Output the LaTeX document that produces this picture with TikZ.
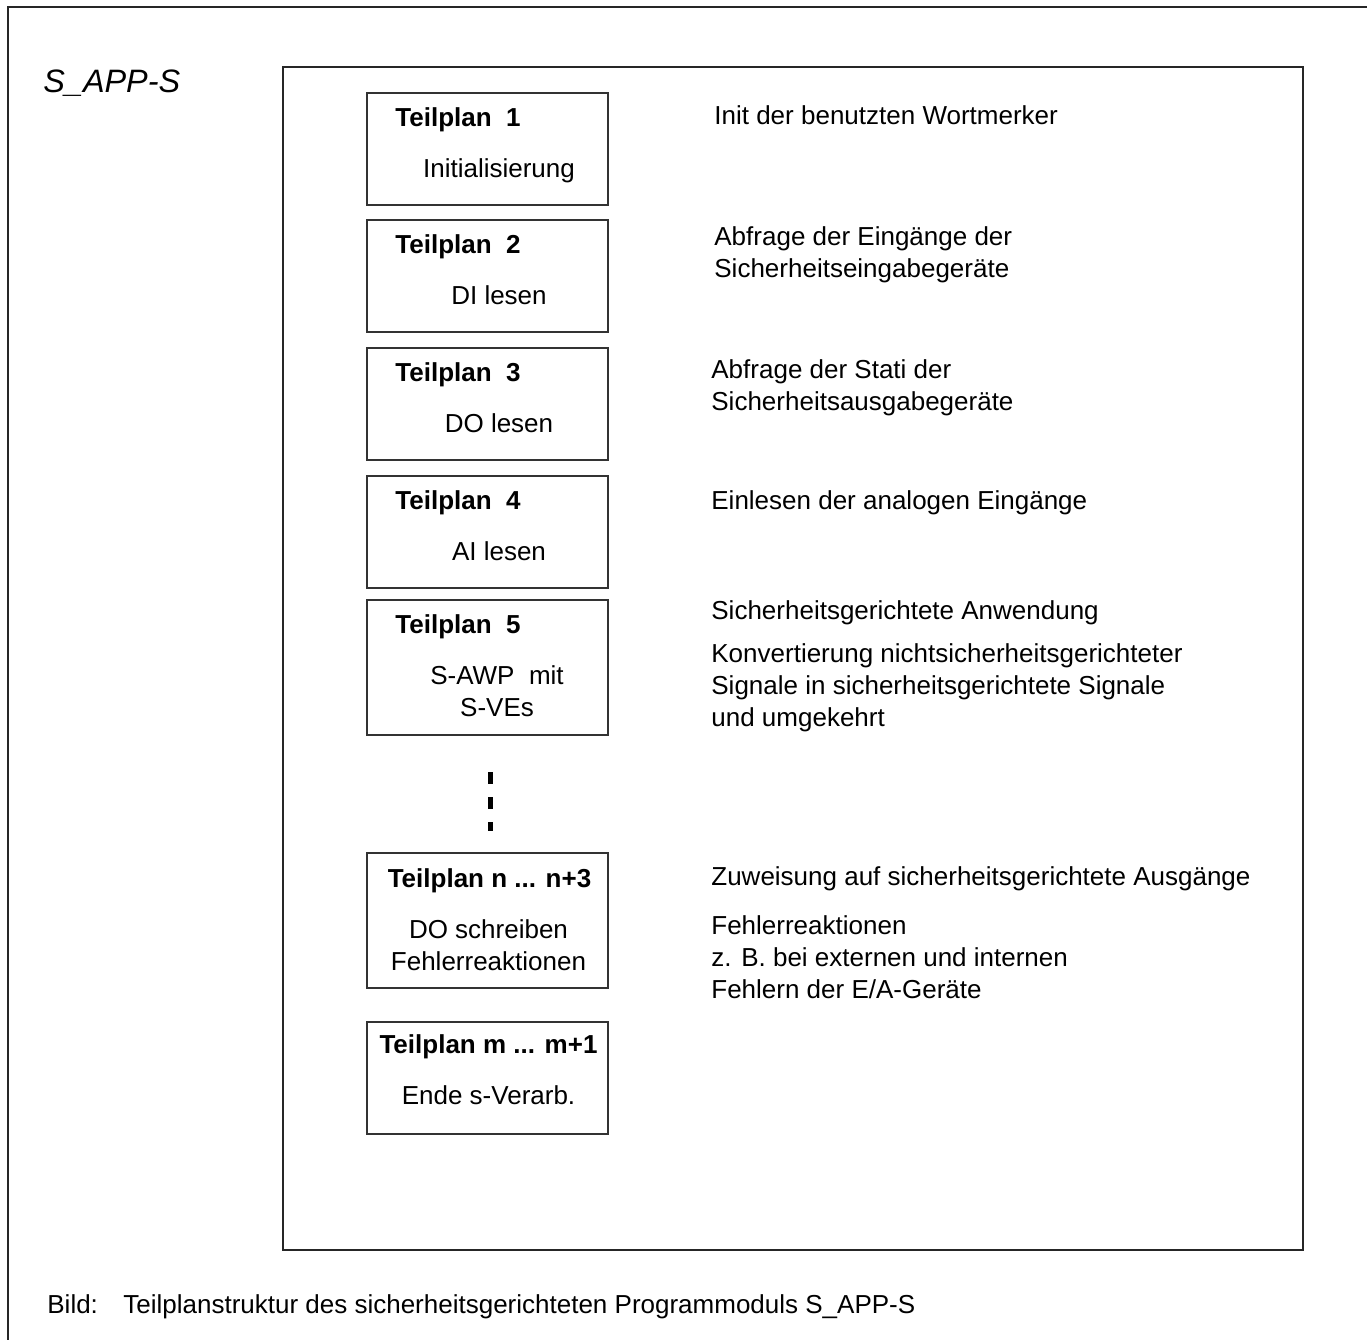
\documentclass[tikz,border=0pt]{standalone}
\usepackage{fontspec}
\setmainfont{Liberation Sans}
\usetikzlibrary{positioning,calc}

\begin{document}
\begin{tikzpicture}[
    x=0.5pt, y=-0.5pt,
    node distance=7.2pt,
    frame/.style={draw=black!85, line width=1pt},
    tpbox/.style={draw=black!80, rectangle, line width=0.8pt, minimum width=120.5pt, minimum height=56pt, inner sep=0pt, outer sep=0pt},
    tallbox/.style={tpbox, minimum height=67.5pt},
    tphead/.style={font=\fontsize{13}{16}\selectfont\bfseries, inner sep=0pt},
    tpbody/.style={font=\fontsize{13}{16}\selectfont, align=center, inner sep=0pt, anchor=base},
    descr/.style={font=\fontsize{13}{16}\selectfont, align=left, inner sep=0pt, anchor=base west},
    dots/.style={line width=2.5pt, dash pattern=on 6pt off 6.5pt}
]
    \useasboundingbox (0,0) rectangle (1367,1340);

    % frames
    \draw [frame] (8,1340) -- (8,7) -- (1367,7);
    \draw [frame] (283,67) rectangle (1303,1250);

    \node [font=\fontsize{16.2}{19}\selectfont\itshape, inner sep=0pt, anchor=base west] (title) at (43,92) {S\_APP-S};

    % Teilplaene
    \node [tpbox] (tp1) at (487.5,149) {};
    \node [tpbox, below=7.5pt of tp1] (tp2) {};
    \node [tpbox, below=8pt of tp2] (tp3) {};
    \node [tpbox, below=8pt of tp3] (tp4) {};
    \node [tallbox, below=6pt of tp4] (tp5) {};
    \node [tallbox, below=59pt of tp5] (tpn) {};
    \node [tpbox, below=17pt of tpn] (tpm) {};

    \node [tphead, anchor=base west] (tp1h) at ($(tp1.north west)+(28,33)$) {Teilplan~~1};
    \node [tpbody] (tp1b) at ($(tp1.north)+(11.5,84)$) {Initialisierung};

    \node [tphead, anchor=base west] (tp2h) at ($(tp2.north west)+(28,33)$) {Teilplan~~2};
    \node [tpbody] (tp2b) at ($(tp2.north)+(11.5,84)$) {DI lesen};

    \node [tphead, anchor=base west] (tp3h) at ($(tp3.north west)+(28,33)$) {Teilplan~~3};
    \node [tpbody] (tp3b) at ($(tp3.north)+(11.5,84)$) {DO lesen};

    \node [tphead, anchor=base west] (tp4h) at ($(tp4.north west)+(28,33)$) {Teilplan~~4};
    \node [tpbody] (tp4b) at ($(tp4.north)+(11.5,84)$) {AI lesen};

    \node [tphead, anchor=base west] (tp5h) at ($(tp5.north west)+(28,33)$) {Teilplan~~5};
    % base = last line
    \node [tpbody] (tp5b) at ($(tp5.north)+(9.5,116)$) {S-AWP~~mit\\S-VEs};

    \node [tphead, anchor=base] (tpnh) at ($(tpn.north)+(2,34)$) {Teilplan n ... n+3};
    \node [tpbody] (tpnb) at ($(tpn.north)+(1,117)$) {DO schreiben\\Fehlerreaktionen};

    \node [tphead, anchor=base] (tpmh) at ($(tpm.north)+(1,31)$) {Teilplan m ... m+1};
    \node [tpbody] (tpmb) at ($(tpm.north)+(1,82)$) {Ende s-Verarb.};

    % Fortsetzung
    \coordinate (dtop) at ($(tp5.south)+(2.5,37)$);
    \coordinate (dbot) at ($(tp5.south)+(2.5,96)$);
    \draw [dots] (dtop) -- (dbot);

    % Beschreibungen (base = letzte Zeile)
    \node [descr] (d1) at (714,124) {Init der benutzten Wortmerker};
    \node [descr] (d2) at (714,277) {Abfrage der Eingänge der\\Sicherheitseingabegeräte};
    \node [descr] (d3) at (711,410) {Abfrage der Stati der\\Sicherheitsausgabegeräte};
    \node [descr] (d4) at (711,509) {Einlesen der analogen Eingänge};
    \node [descr] (d5) at (711,619) {Sicherheitsgerichtete Anwendung};
    \node [descr] (d5a) at (711,726) {Konvertierung nichtsicherheitsgerichteter\\Signale in sicherheitsgerichtete Signale\\und umgekehrt};
    \node [descr] (dn) at (711,885) {Zuweisung auf sicherheitsgerichtete Ausgänge};
    \node [descr] (dna) at (711,998) {Fehlerreaktionen\\z. B. bei externen und internen\\Fehlern der E/A-Geräte};

    % Bildunterschrift
    \node [descr] (bild) at (47,1313) {Bild:};
    \node [descr] (caption) at (123,1313) {Teilplanstruktur des sicherheitsgerichteten Programmoduls S\_APP-S};

\end{tikzpicture}
\end{document}
